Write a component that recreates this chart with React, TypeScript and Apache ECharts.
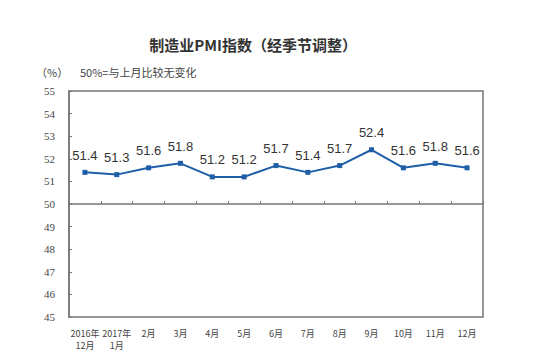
import React, { useEffect, useRef } from "react";
import * as echarts from "echarts";

const categories = ["2016年\n12月", "2017年\n1月", "2月", "3月", "4月", "5月", "6月", "7月", "8月", "9月", "10月", "11月", "12月"];
const pmiValues = [51.4, 51.3, 51.6, 51.8, 51.2, 51.2, 51.7, 51.4, 51.7, 52.4, 51.6, 51.8, 51.6];
const yTicks = { min: 45, max: 55, interval: 1, baseline: 50 };

export default function App() {
  const ref = useRef<HTMLDivElement>(null);
  useEffect(() => {
    if (!ref.current) return;
    const chart = echarts.init(ref.current, null, { renderer: "svg" });
    const gridTop = 91;
    const gridBottom = 46;
    const plotH = 363 - gridTop - gridBottom;
    const baseOffset = -(plotH * (yTicks.max - yTicks.baseline)) / (yTicks.max - yTicks.min);
    chart.setOption({
      animation: false,
      backgroundColor: "#fff",
      title: {
        text: "制造业PMI指数（经季节调整）",
        left: 248,
        top: 32,
        textAlign: "center",
        textStyle: { fontSize: 15, fontWeight: "bold", color: "#333", fontFamily: "Noto Sans CJK SC" },
      },
      graphic: [
        { type: "text", left: 36, top: 66, style: { text: "（%）", fontSize: 11, fill: "#444", fontFamily: "Noto Sans CJK SC" } },
        { type: "text", left: 80, top: 66, style: { text: "50%=与上月比较无变化", fontSize: 11, fill: "#444", fontFamily: "Noto Sans CJK SC" } },
      ],
      grid: {
        left: 69,
        right: 73,
        top: gridTop,
        bottom: gridBottom,
        show: true,
        borderColor: "#777",
        borderWidth: 1.5,
        backgroundColor: "#fff",
      },
      xAxis: [
        {
          type: "category",
          data: categories,
          boundaryGap: true,
          axisLine: { show: false },
          axisTick: { show: false },
          axisLabel: {
            color: "#444",
            fontSize: 9,
            margin: 10,
            lineHeight: 12,
            interval: 0,
            fontFamily: "Noto Sans CJK SC",
            verticalAlign: "top",
          },
        },
        {
          type: "category",
          data: categories,
          boundaryGap: true,
          position: "bottom",
          offset: baseOffset,
          axisLine: { show: true, lineStyle: { color: "#777", width: 1.5 } },
          axisTick: { show: true, inside: true, length: 3, interval: 0, lineStyle: { color: "#777" } },
          axisLabel: { show: false },
        },
      ],
      yAxis: {
        type: "value",
        min: yTicks.min,
        max: yTicks.max,
        interval: yTicks.interval,
        axisLine: { show: true, lineStyle: { color: "#777", width: 1.5 } },
        axisTick: { show: true, inside: true, length: 3, lineStyle: { color: "#777" } },
        splitLine: { show: false },
        axisLabel: { color: "#444", fontSize: 11, margin: 14, fontFamily: "Liberation Serif" },
      },
      series: [
        {
          type: "line",
          data: pmiValues,
          xAxisIndex: 0,
          symbol: "rect",
          symbolSize: 5,
          lineStyle: { color: "#1f5fa8", width: 2 },
          itemStyle: { color: "#1f5fa8" },
          label: {
            show: true,
            position: "top",
            distance: 8,
            color: "#333",
            fontSize: 13,
            fontFamily: "Liberation Sans",
            formatter: (p: any) => p.value.toFixed(1),
          },
        },
      ],
    });
    return () => chart.dispose();
  }, []);
  return <div ref={ref} style={{ width: 556, height: 363, position: "absolute", left: 0, top: 0 }} />;
}
